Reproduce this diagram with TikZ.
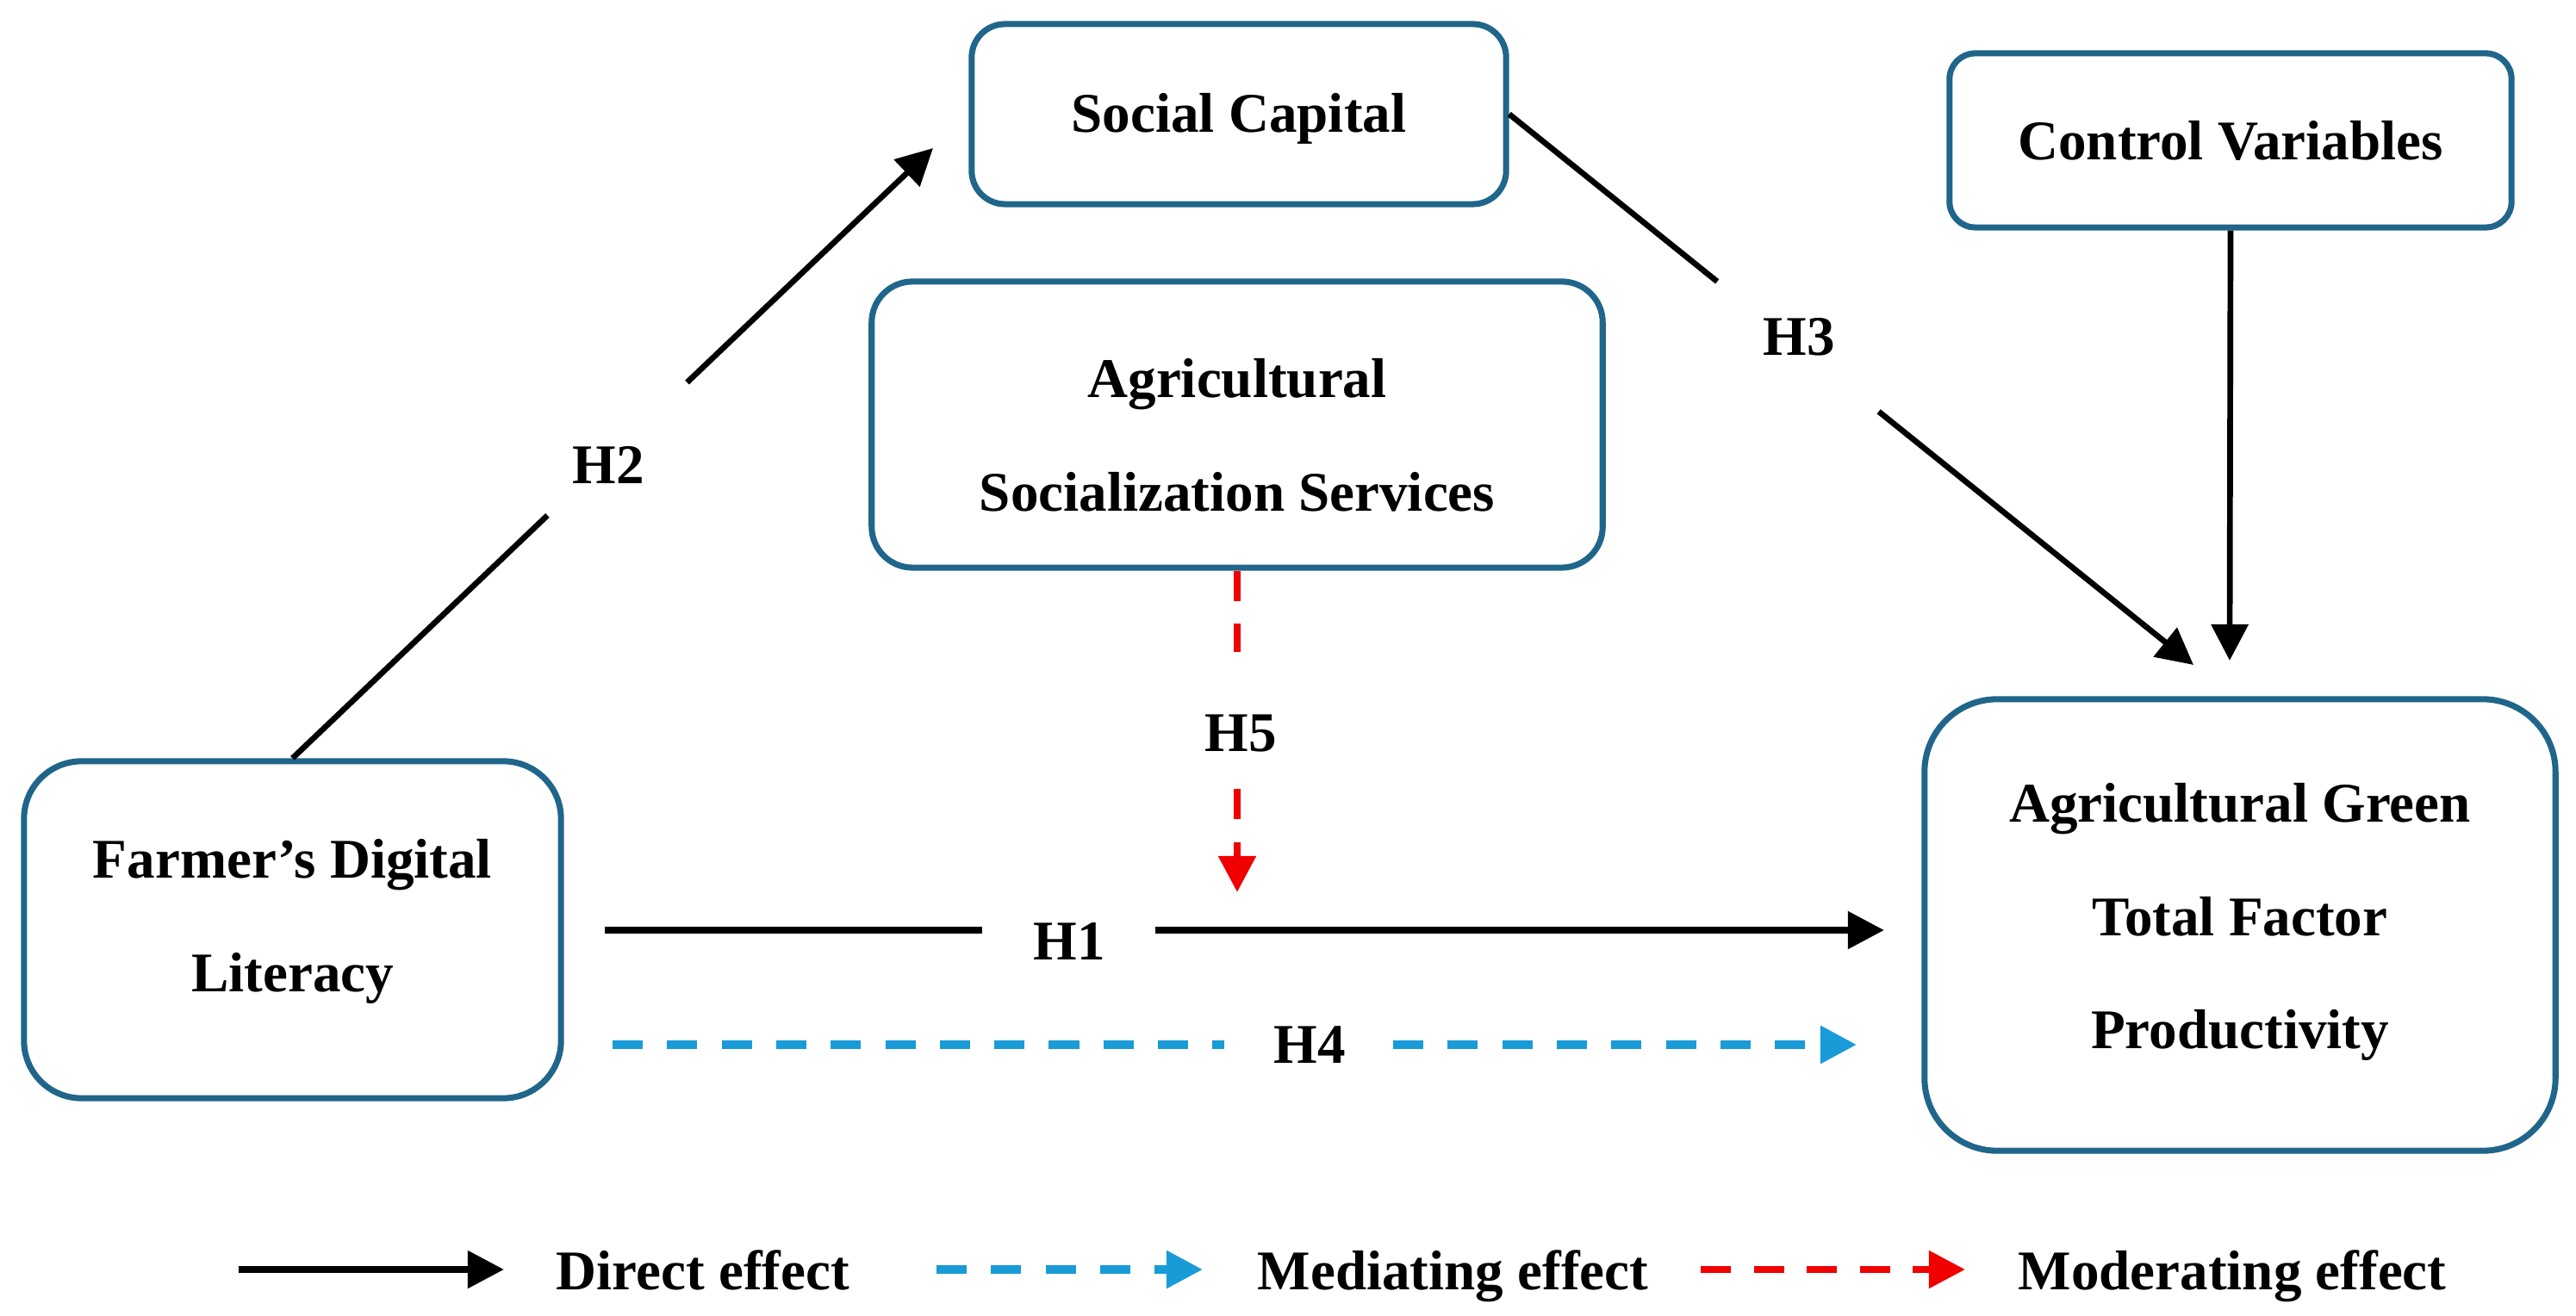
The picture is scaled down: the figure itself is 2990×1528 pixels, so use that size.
\documentclass[tikz,border=0pt]{standalone}
\usepackage{fontspec}
\setmainfont{Liberation Serif}
\usetikzlibrary{arrows.meta,calc}
\definecolor{boxc}{RGB}{32,101,138}
\definecolor{medblue}{RGB}{25,155,215}
\definecolor{modred}{RGB}{240,0,0}
\newcommand\diafont{\bfseries\fontsize{18.5pt}{37.5pt}\selectfont}
\begin{document}
\begin{tikzpicture}[x=0.01cm,y=-0.01cm,
  box/.style={draw=boxc, line width=2pt, fill=white, rounded corners=#1, align=center, inner sep=0pt, font=\diafont},
  lbl/.style={font=\diafont, inner sep=0pt},
  arr/.style={-{Triangle[length=12pt,width=12pt]}},
  dline/.style={draw=black, line width=1.9pt},
  hline/.style={draw=black, line width=2.3pt},
  bline/.style={draw=medblue, line width=2.6pt, dash pattern=on 10pt off 8pt},
  rline/.style={draw=modred, line width=2.3pt, dash pattern=on 10pt off 7.5pt}]
\useasboundingbox[fill=white] (0,0) rectangle (2990,1528);

% boxes
\node[box=11pt, minimum width=6.20cm, minimum height=2.09cm] (sc) at (1438,132.5) {\rule{0pt}{16pt}Social Capital};
\node[box=8.5pt, minimum width=6.52cm, minimum height=2.02cm] (cv) at (2589,163) {Control Variables};
\node[box=13.5pt, minimum width=8.48cm, minimum height=3.32cm] (ass) at (1436,493) {\rule{0pt}{20pt}Agricultural\\Socialization Services};
\node[box=19pt, minimum width=6.23cm, minimum height=3.91cm] (fdl) at (339.5,1079.5) {Farmer’s Digital\\Literacy\rule[-9.2pt]{0pt}{9.2pt}};
\node[box=24pt, minimum width=7.32cm, minimum height=5.24cm] (agt) at (2600,1074) {Agricultural Green\\Total Factor\\Productivity\rule[-6pt]{0pt}{6pt}};

% labels
\node[lbl] (h1) at (1241,1093) {H1};
\node[lbl] (h2) at (706,540) {H2};
\node[lbl] (h3) at (2088,391) {H3};
\node[lbl] (h4) at (1520,1213) {H4};
\node[lbl] (h5) at (1440,852) {H5};

% free ends
\coordinate (h2end) at (1083,172);
\coordinate (h3end) at (2546,772);
\coordinate (cvend) at (2588,767);
\coordinate (h1s) at (702,1080);
\coordinate (h1a) at (1140,1080);
\coordinate (h1b) at (1341,1080);
\coordinate (h1e) at (2187,1080);
\coordinate (h4s) at (711,1213);
\coordinate (h4a) at (1421,1213);
\coordinate (h4b) at (1617,1213);
\coordinate (h4e) at (2155,1213);
\coordinate (h5a) at (1436,757);
\coordinate (h5b) at (1436,916);
\coordinate (h5e) at (1436,1036);

% H2
\draw[dline] (fdl.north) -- ($(fdl.north)!0.398!(h2end)$);
\draw[dline,arr] ($(fdl.north)!0.616!(h2end)$) -- (h2end);
% H3
\draw[dline] (sc.east) -- ($(sc.east)!0.304!(h3end)$);
\draw[dline,arr] ($(sc.east)!0.540!(h3end)$) -- (h3end);
% control
\draw[dline,arr] (cv.south) -- (cvend);
% H1
\draw[hline] (h1s) -- (h1a);
\draw[hline,arr] (h1b) -- (h1e);
% H4
\draw[bline] (h4s) -- (h4a);
\draw[bline,arr] (h4b) -- (h4e);
% H5
\draw[rline] (ass.south) -- (h5a);
\draw[rline,arr] (h5b) -- (h5e);

% legend
\coordinate (l1s) at (277,1474); \coordinate (l1e) at (585,1474);
\coordinate (l2s) at (1087,1474); \coordinate (l2e) at (1396,1474);
\coordinate (l3s) at (1974,1474); \coordinate (l3e) at (2281,1474);
\draw[hline,arr] (l1s) -- (l1e);
\draw[bline,arr] (l2s) -- (l2e);
\draw[rline,arr] (l3s) -- (l3e);
\node[lbl, anchor=base west] (t1) at (645,1497) {Direct effect};
\node[lbl, anchor=base west] (t2) at (1459,1497) {Mediating effect};
\node[lbl, anchor=base west] (t3) at (2342,1497) {Moderating effect};
\end{tikzpicture}
\end{document}
